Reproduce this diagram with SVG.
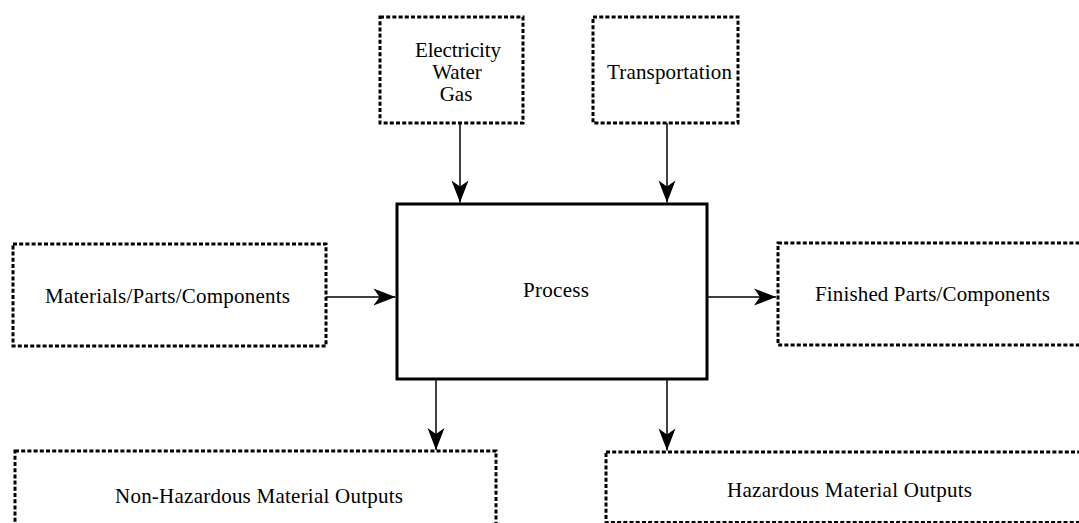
<svg xmlns="http://www.w3.org/2000/svg" width="1079" height="523" viewBox="0 0 1079 523">
<style>
.dot{fill:#fff;stroke:#000;stroke-width:3;stroke-dasharray:4 2.2}
.proc{fill:#fff;stroke:#000;stroke-width:3}
.t{font-family:"Liberation Serif","Times New Roman",serif;font-size:21px;fill:#000;text-anchor:middle}
.c{stroke:#000;stroke-width:1.5;fill:none;marker-end:url(#ah)}
</style>
<defs>
<marker id="ah" markerUnits="userSpaceOnUse" markerWidth="24" markerHeight="20" viewBox="-23 -10 24 20" refX="0" refY="0" orient="auto">
<path d="M0,0 L-22,-8.5 L-16,0 L-22,8.5 Z" fill="#000"/>
</marker>
</defs>
<rect width="1079" height="523" fill="#fff"/>
<g id="connectors">
<line class="c" x1="460" y1="123" x2="460" y2="202.5"/>
<line class="c" x1="667" y1="123" x2="667" y2="202.5"/>
<line class="c" x1="319" y1="297" x2="395.5" y2="297"/>
<line class="c" x1="707" y1="297" x2="776" y2="297"/>
<line class="c" x1="436" y1="379" x2="436" y2="450"/>
<line class="c" x1="667" y1="379" x2="667" y2="450.5"/>
</g>
<g id="utilities">
<rect class="dot" x="380" y="17" width="143" height="106"/>
<text class="t" x="458" y="57" textLength="86">Electricity</text>
<text class="t" x="457" y="79">Water</text>
<text class="t" x="456" y="101">Gas</text>
</g>
<g id="transportation">
<rect class="dot" x="593" y="17" width="145" height="106"/>
<text class="t" x="669.5" y="79" textLength="125">Transportation</text>
</g>
<g id="materials">
<rect class="dot" x="13" y="244" width="313" height="102"/>
<text class="t" x="167.5" y="303" textLength="245">Materials/Parts/Components</text>
</g>
<g id="process">
<rect class="proc" x="397" y="204" width="310" height="175"/>
<text class="t" x="556" y="297" textLength="66">Process</text>
</g>
<g id="finished">
<rect class="dot" x="778" y="243" width="320" height="102"/>
<text class="t" x="932.5" y="301" textLength="235">Finished Parts/Components</text>
</g>
<g id="nonhazardous">
<rect class="dot" x="15" y="451" width="481" height="100"/>
<text class="t" x="259" y="503" textLength="288">Non-Hazardous Material Outputs</text>
</g>
<g id="hazardous">
<rect class="dot" x="606" y="452" width="490" height="70.5"/>
<text class="t" x="849.5" y="497" textLength="245">Hazardous Material Outputs</text>
</g>
</svg>
